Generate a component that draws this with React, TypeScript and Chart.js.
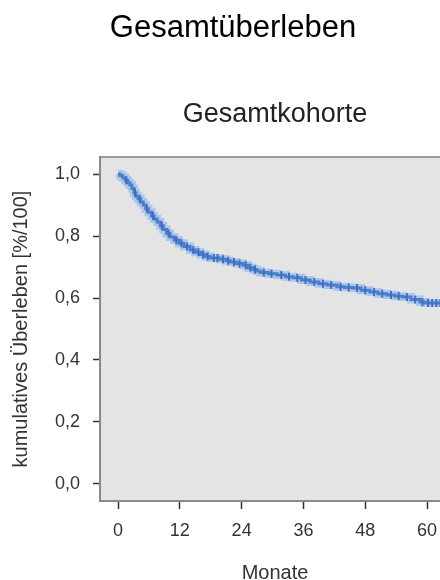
import React, { useEffect, useRef } from "react";
import { Chart, registerables } from "chart.js";

Chart.register(...registerables);

// Kaplan-Meier step points (month, cumulative survival)
const eventMonths = [
  0, 0.4, 0.9, 1.4, 1.9, 2.3, 2.7, 3.1, 3.5, 3.9, 4.4, 4.9, 5.4, 5.9, 6.5, 7.0,
  7.6, 8.2, 8.8, 9.4, 10.1, 10.9, 11.8, 12.8, 14.0, 15.0, 16.0, 17.0, 17.9,
  19.8, 21.0, 21.8, 23.0, 24.3, 25.2, 26.2, 27.0, 27.6, 29.2, 30.9, 32.5, 34.0,
  35.6, 37.3, 39.0, 40.6, 42.5, 44.0, 45.6, 47.2, 48.9, 50.5, 52.2, 53.8, 55.3,
  56.9, 58.6, 59.6, 64.0,
];
const survival = [
  1.0, 0.995, 0.988, 0.98, 0.972, 0.965, 0.953, 0.94, 0.928, 0.92, 0.91, 0.9,
  0.888, 0.877, 0.865, 0.855, 0.845, 0.833, 0.821, 0.809, 0.797, 0.787, 0.777,
  0.766, 0.755, 0.748, 0.74, 0.734, 0.729, 0.725, 0.72, 0.716, 0.711, 0.706,
  0.698, 0.692, 0.687, 0.682, 0.678, 0.674, 0.669, 0.665, 0.658, 0.652, 0.646,
  0.642, 0.636, 0.634, 0.632, 0.625, 0.619, 0.614, 0.61, 0.606, 0.603, 0.595,
  0.587, 0.584, 0.584,
];
// censored observations (months)
const censorMonths = [
  1.6, 3.3, 4.2, 5.6, 6.8, 8.5, 9.8, 11.3, 12.3, 13.4, 14.6, 15.6, 16.5, 17.4,
  18.6, 19.3, 20.4, 21.4, 22.5, 23.6, 24.8, 25.7, 26.6, 28.3, 29.8, 31.7, 33.2,
  34.8, 36.4, 38.1, 39.8, 41.4, 43.2, 44.8, 46.4, 48.0, 49.7, 51.3, 53.0, 54.5,
  56.1, 57.7, 59.1, 60.2, 61.0, 61.8, 62.6, 63.3,
];
const xTickValues = [0, 12, 24, 36, 48, 60];
const xTickLabels = ["0", "12", "24", "36", "48", "60"];
const yTickValues = [0, 0.2, 0.4, 0.6, 0.8, 1.0];
const yTickLabels = ["0,0", "0,2", "0,4", "0,6", "0,8", "1,0"];

const mainTitle = "Gesamtüberleben";
const chartTitle = "Gesamtkohorte";
const xTitle = "Monate";
const yTitle = "kumulatives Überleben [%/100]";

const FONT = "'Liberation Sans', Arial, sans-serif";

function survivalAt(t: number): number {
  let v = survival[0];
  for (let i = 0; i < eventMonths.length; i++) {
    if (eventMonths[i] <= t) v = survival[i];
  }
  return v;
}

const bgPlugin = {
  id: "panelBg",
  beforeDraw(chart: any) {
    const { ctx, chartArea } = chart;
    ctx.save();
    ctx.fillStyle = "#e4e4e4";
    ctx.fillRect(chartArea.left, chartArea.top, chartArea.right - chartArea.left, chartArea.bottom - chartArea.top);
    ctx.strokeStyle = "#9a9a9a";
    ctx.lineWidth = 2;
    ctx.beginPath();
    ctx.moveTo(chartArea.left, chartArea.top);
    ctx.lineTo(chartArea.right, chartArea.top);
    ctx.lineTo(chartArea.right, chartArea.bottom);
    ctx.stroke();
    ctx.restore();
  },
};

export default function App() {
  const ref = useRef<HTMLCanvasElement | null>(null);
  useEffect(() => {
    if (!ref.current) return;
    const kmPts = eventMonths.map((m, i) => ({ x: m, y: survival[i] }));
    const censorPts = censorMonths.map((m) => ({ x: m, y: survivalAt(m) }));
    const chart = new Chart(ref.current, {
      type: "line",
      data: {
        datasets: [
          {
            label: "Zensiert",
            data: censorPts,
            showLine: false,
            pointStyle: "line",
            pointRotation: 90,
            pointRadius: 4,
            pointBorderWidth: 2,
            pointBorderColor: "#3d6fc2",
            pointBackgroundColor: "#3d6fc2",
            order: 0,
          } as any,
          {
            label: "Überleben",
            data: kmPts,
            stepped: "before",
            borderColor: "#4a7fd0",
            borderWidth: 3,
            pointRadius: 0,
            fill: false,
            order: 1,
          } as any,
          {
            label: "halo",
            data: kmPts,
            stepped: "before",
            borderColor: "rgba(130,175,235,0.55)",
            borderWidth: 8,
            pointRadius: 0,
            fill: false,
            order: 2,
          } as any,
        ],
      },
      options: {
        animation: false,
        responsive: false,
        events: [],
        layout: { padding: { left: 0, right: 86, top: 0, bottom: 0 } },
        plugins: {
          legend: { display: false },
          tooltip: { enabled: false },
          title: {
            display: true,
            fullSize: false,
            text: chartTitle,
            color: "#222",
            font: { family: FONT, size: 27, weight: "normal" },
            padding: { top: 98, bottom: 26.6 },
          },
        },
        scales: {
          x: {
            type: "linear",
            min: -3.5,
            max: 64.46,
            afterBuildTicks: (s: any) => {
              s.ticks = xTickValues.map((v) => ({ value: v }));
            },
            afterFit: (s: any) => {
              s.height = 99;
            },
            grid: { display: true, drawOnChartArea: false, drawTicks: true, tickLength: 8, tickColor: "#333", tickWidth: 1.5 },
            border: { display: true, color: "#8a8a8a", width: 2 },
            ticks: {
              padding: 11,
              color: "#333",
              font: { family: FONT, size: 18 },
              callback: (v: any) => xTickLabels[xTickValues.indexOf(Number(v))] ?? "",
              maxRotation: 0,
              autoSkip: false,
            },
            title: { display: true, text: xTitle, color: "#333", font: { family: FONT, size: 20 }, padding: { top: 0, bottom: 15 } },
          },
          y: {
            type: "linear",
            min: -0.055,
            max: 1.055,
            afterBuildTicks: (s: any) => {
              s.ticks = yTickValues.map((v) => ({ value: v }));
            },
            afterFit: (s: any) => {
              s.width = 100;
            },
            grid: { display: true, drawOnChartArea: false, drawTicks: true, tickLength: 7, tickColor: "#333", tickWidth: 1.5 },
            border: { display: true, color: "#8a8a8a", width: 2 },
            ticks: {
              padding: 13,
              color: "#333",
              font: { family: FONT, size: 18 },
              callback: (v: any) => {
                const i = yTickValues.findIndex((t) => Math.abs(t - Number(v)) < 1e-6);
                return i >= 0 ? yTickLabels[i] : "";
              },
              autoSkip: false,
            },
            title: { display: true, text: yTitle, color: "#333", font: { family: FONT, size: 20 }, padding: { top: 9, bottom: 0 } },
          },
        },
      } as any,
      plugins: [bgPlugin],
    });
    return () => chart.destroy();
  }, []);

  return (
    <div style={{ position: "fixed", left: 0, top: 0, width: 440, height: 580, overflow: "hidden", background: "#fff" }}>
      <div
        style={{
          position: "absolute",
          left: 0,
          top: 11,
          width: 466,
          textAlign: "center",
          fontFamily: FONT,
          fontSize: 31,
          lineHeight: "31px",
          color: "#000",
          zIndex: 1,
        }}
      >
        {mainTitle}
      </div>
      <canvas ref={ref} width={536} height={600} style={{ position: "absolute", left: 0, top: 0, display: "block" }} />
    </div>
  );
}
